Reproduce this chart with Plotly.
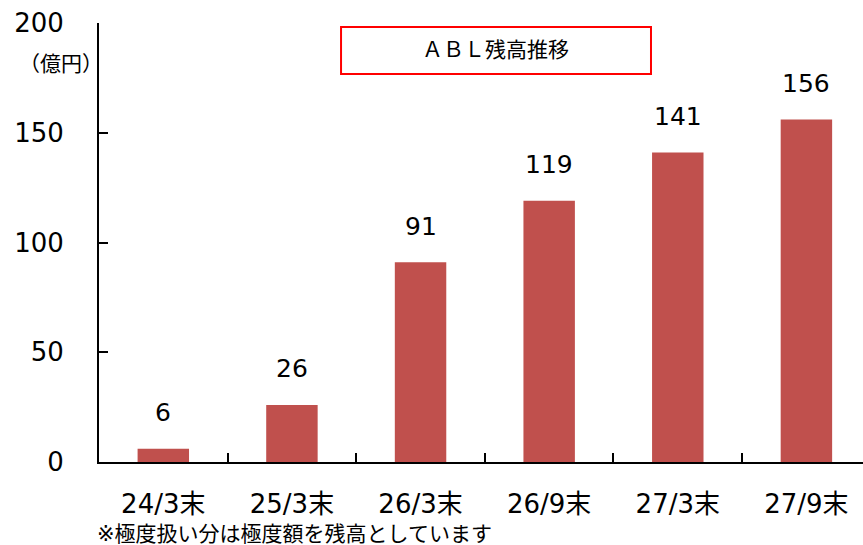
import plotly.graph_objects as go

categories = ["24/3末", "25/3末", "26/3末", "26/9末", "27/3末", "27/9末"]
values = [6, 26, 91, 119, 141, 156]
y_ticks = [0, 50, 100, 150, 200]

FONT = "DejaVu Sans, Noto Sans CJK JP, sans-serif"
CJK = "Noto Sans CJK JP, DejaVu Sans, sans-serif"
W, H = 863, 545
ML, MR, MT, MB = 99, 0, 23, 83

fig = go.Figure()
fig.add_trace(go.Bar(
    x=categories, y=values, marker=dict(color="#C0504D", line=dict(width=0)),
    width=0.4, hoverinfo="skip"
))

for c, v in zip(categories, values):
    fig.add_annotation(x=c, y=v, text=str(v), showarrow=False, yshift=36,
                       yanchor="middle", font=dict(size=25, color="#000", family=FONT))

fig.add_shape(type="rect", xref="paper", yref="paper",
              x0=0.3168, x1=0.7225, y0=0.8838, y1=0.9909,
              line=dict(color="#FF0000", width=2), fillcolor="white", layer="below")
fig.add_annotation(xref="paper", yref="paper", x=0.5196, y=0.9374, text="ＡＢＬ残高推移",
                   xanchor="center", yanchor="middle",
                   showarrow=False, font=dict(size=21, color="#000", family=FONT))
fig.add_annotation(xref="paper", yref="paper", x=-0.1073, y=0.911, text="（億円）",
                   xanchor="left", yanchor="middle",
                   showarrow=False, font=dict(size=21, color="#000", family=CJK))
fig.add_annotation(xref="paper", yref="paper", x=-0.0052, y=-0.163, xanchor="left",
                   yanchor="middle", text="※極度扱い分は極度額を残高としています",
                   showarrow=False, font=dict(size=21, color="#000", family=FONT))

fig.update_layout(
    width=W, height=H, margin=dict(l=ML, r=MR, t=MT, b=MB),
    paper_bgcolor="white", plot_bgcolor="white", showlegend=False,
    bargap=0.6,
    xaxis=dict(type="category", range=[-0.5, 5.44], showline=True, linecolor="#000", linewidth=2,
               ticks="inside", tickson="boundaries", ticklen=9, tickwidth=1.5, tickcolor="#000",
               showgrid=False, zeroline=False, ticklabelstandoff=18,
               tickfont=dict(size=26, color="#000", family=FONT)),
    yaxis=dict(range=[0, 200], tickvals=y_ticks, showline=True, linecolor="#000", linewidth=2,
               ticks="inside", ticklen=9, tickwidth=1.5, tickcolor="#000",
               showgrid=False, zeroline=False, ticklabelstandoff=28,
               tickfont=dict(size=26, color="#000", family=FONT)),
)

fig.write_html("out.html")
